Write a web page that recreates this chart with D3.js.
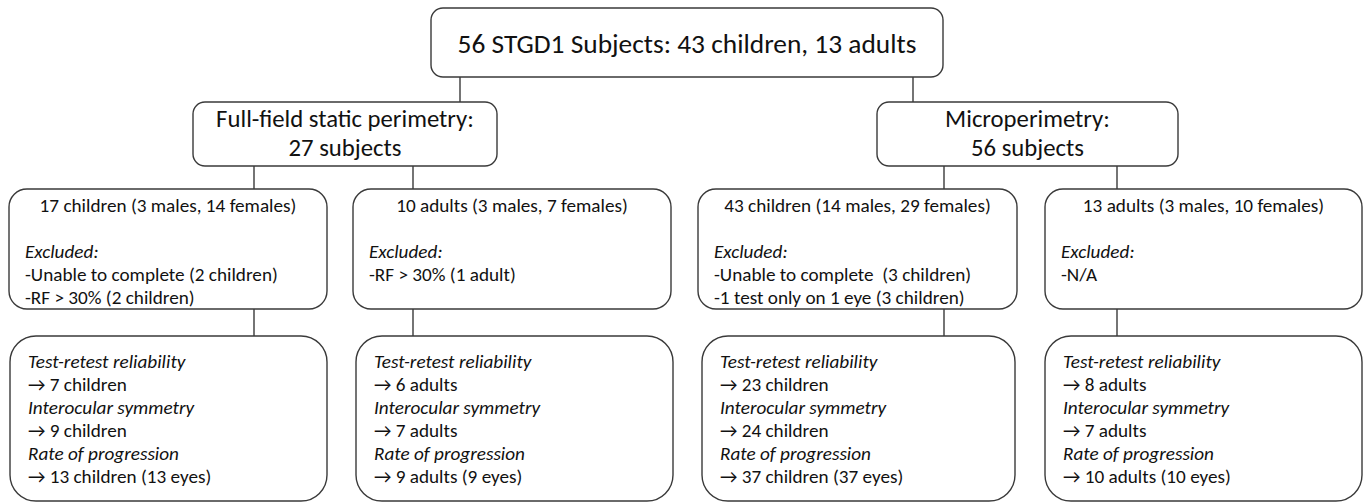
<!doctype html>
<html>
<head>
    <meta charset="UTF-8">
    <title>STGD1 flowchart</title>
    <script src="https://d3js.org/d3.v7.min.js"></script>
    <style>
        body{margin:0;background:#fff;}
        text{font-family:Carlito, Calibri, Lato, "Open Sans", sans-serif;fill:#111;white-space:pre;}
    </style>
</head>
<body>
    <script>
        var w=1363, h=503;

        // chart content
        var title="56 STGD1 Subjects: 43 children, 13 adults";
        var methods=["Full-field static perimetry:", "Microperimetry:"];
        var methodCounts=["27 subjects", "56 subjects"];
        var groups=["17 children (3 males, 14 females)", "10 adults (3 males, 7 females)",
                    "43 children (14 males, 29 females)", "13 adults (3 males, 10 females)"];
        var excluded=[
            ["-Unable to complete (2 children)", "-RF > 30% (2 children)"],
            ["-RF > 30% (1 adult)"],
            ["-Unable to complete  (3 children)", "-1 test only on 1 eye (3 children)"],
            ["-N/A"]
        ];
        var outcomes=["Test-retest reliability", "Interocular symmetry", "Rate of progression"];
        var results=[
            ["7 children", "9 children", "13 children (13 eyes)"],
            ["6 adults", "7 adults", "9 adults (9 eyes)"],
            ["23 children", "24 children", "37 children (37 eyes)"],
            ["8 adults", "7 adults", "10 adults (10 eyes)"]
        ];

        // layout
        var titleBox={x0:431, x1:943, y0:8, y1:77};
        var methodBoxes=[{x0:193, x1:497}, {x0:877, x1:1178}];
        var methodY=[102, 166];
        var groupX0=[9, 353, 698, 1045], groupX1=[327, 671, 1017, 1362];
        var groupY=[189, 309];
        var resX0=[10, 356, 702, 1045], resX1=[327, 673, 1015, 1362];
        var resY=[336, 501];
        var methodLinkX=[460, 913];
        var groupLinkX=[254, 413, 944, 1117];
        var stroke="#3a3a3a", sw=1.4;

        var svg=d3.select("body").append("svg").attr("width", w).attr("height", h);

        // pick a font size so that a reference line has the width seen in the picture
        function fit(str, target){
            var t=svg.append("text").attr("font-size", 20).text(str);
            var len=t.node().getComputedTextLength();
            t.remove();
            return 20*target/len;
        }
        var fsTitle=fit(title, 459);
        var fsMethod=fit(methods[0], 258);
        var fsGroup=fit(groups[0], 257);

        function box(x0, y0, x1, y1, r){
            svg.append("rect").attr("x", x0).attr("y", y0)
                .attr("width", x1-x0).attr("height", y1-y0)
                .attr("rx", r).attr("ry", r)
                .attr("fill", "#fff").attr("stroke", stroke).attr("stroke-width", sw);
        }
        function link(x, y0, y1){
            svg.append("line").attr("x1", x).attr("x2", x).attr("y1", y0).attr("y2", y1)
                .attr("stroke", stroke).attr("stroke-width", sw);
        }

        // connectors first, boxes on top
        methodLinkX.forEach(function(x){ link(x, titleBox.y1, methodY[0]); });
        groupLinkX.forEach(function(x){
            link(x, methodY[1], groupY[0]);
            link(x, groupY[1], resY[0]);
        });

        // title
        box(titleBox.x0, titleBox.y0, titleBox.x1, titleBox.y1, 12);
        svg.append("text").attr("x", (titleBox.x0+titleBox.x1)/2).attr("y", 53)
            .attr("text-anchor", "middle").attr("font-size", fsTitle).text(title);

        // methods
        methodBoxes.forEach(function(b, i){
            box(b.x0, methodY[0], b.x1, methodY[1], 12);
            var cx=(b.x0+b.x1)/2;
            svg.append("text").attr("x", cx).attr("y", 127).attr("text-anchor", "middle")
                .attr("font-size", fsMethod).text(methods[i]);
            svg.append("text").attr("x", cx).attr("y", 156).attr("text-anchor", "middle")
                .attr("font-size", fsMethod).text(methodCounts[i]);
        });

        var lh=23;

        // groups with exclusions
        groups.forEach(function(g, i){
            var x0=groupX0[i], x1=groupX1[i];
            box(x0, groupY[0], x1, groupY[1], 18);
            svg.append("text").attr("x", (x0+x1)/2).attr("y", 212).attr("text-anchor", "middle")
                .attr("font-size", fsGroup).text(g);
            svg.append("text").attr("x", x0+16).attr("y", 212+2*lh)
                .attr("font-size", fsGroup).style("font-style", "italic").text("Excluded:");
            excluded[i].forEach(function(e, j){
                svg.append("text").attr("x", x0+16).attr("y", 212+(3+j)*lh)
                    .attr("font-size", fsGroup).text(e);
            });
        });

        // outcomes
        results.forEach(function(r, i){
            var x0=resX0[i], x1=resX1[i];
            box(x0, resY[0], x1, resY[1], 26);
            outcomes.forEach(function(o, j){
                svg.append("text").attr("x", x0+18).attr("y", 368+(2*j)*lh)
                    .attr("font-size", fsGroup).style("font-style", "italic").text(o);
                svg.append("text").attr("x", x0+18).attr("y", 368+(2*j+1)*lh)
                    .attr("font-size", fsGroup).text("\u2192 "+r[j]);
            });
        });
    </script>
</body>
</html>
